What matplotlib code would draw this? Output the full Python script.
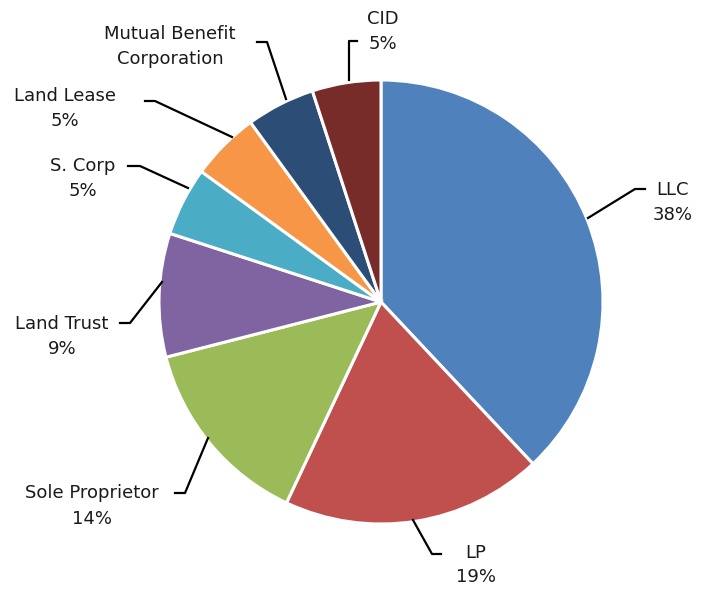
import matplotlib.pyplot as plt

# data
labels = ['LLC', 'LP', 'Sole Proprietor', 'Land Trust', 'S. Corp', 'Land Lease',
          'Mutual Benefit\nCorporation', 'CID']
values = [38, 19, 14, 9, 5, 5, 5, 5]
colors = ['#4F81BD', '#C0504D', '#9BBB59', '#8064A2', '#4BACC6', '#F79646',
          '#2C4D75', '#772C2A']

# layout in pixels (center 381,302 radius 222)
W, H = 701, 592
cx, cy, R = 381, 302, 222


def px(x, y):
    return (x - cx) / R, (cy - y) / R


# leader lines: points in pixels, label center in pixels
leaders = [
    ([(588, 218), (635, 189), (645, 189)], (673, 202)),
    ([(413, 520), (432, 554), (441, 554)], (476, 565)),
    ([(208, 438), (185, 493), (175, 493)], (92, 506)),
    ([(162, 282), (130, 323), (120, 323)], (62, 336)),
    ([(188, 188), (140, 166), (128, 166)], (83, 178)),
    ([(232, 137), (155, 101), (145, 101)], (65, 108)),
    ([(286, 99), (267, 42), (257, 42)], (170, 46)),
    ([(349, 80), (349, 41), (357, 41)], (383, 31)),
]

fig = plt.figure(figsize=(W / 100, H / 100), dpi=100)
ax = fig.add_axes([0, 0, 1, 1])
ax.pie(values, colors=colors, startangle=90, counterclock=False, radius=1,
       wedgeprops=dict(edgecolor='white', linewidth=2.2))

for i, (pts, lab) in enumerate(leaders):
    xs = [px(*p)[0] for p in pts]
    ys = [px(*p)[1] for p in pts]
    ax.plot(xs, ys, color='black', linewidth=1.6)
    tx, ty = px(*lab)
    ax.text(tx, ty, f'{labels[i]}\n{values[i]}%' if i != 6 else labels[i],
            ha='center', va='center', fontsize=13, family='DejaVu Sans',
            color='#1a1a1a', linespacing=1.5)

ax.set_xlim(px(0, 0)[0], px(W, 0)[0])
ax.set_ylim(px(0, H)[1], px(0, 0)[1])
ax.set_aspect('auto')
ax.axis('off')
fig.savefig('out.png', dpi=100)
